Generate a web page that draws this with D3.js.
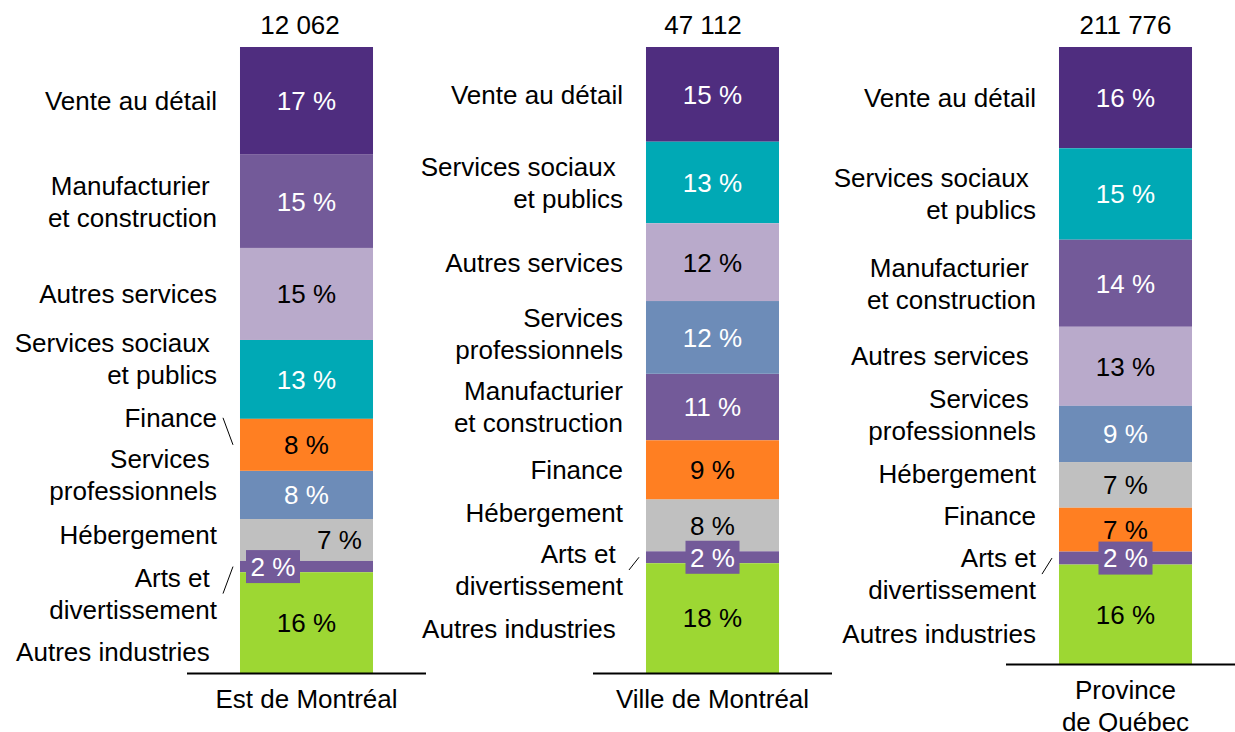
<!DOCTYPE html>
<html>
<head>
<meta charset="utf-8">
<script src="https://cdn.jsdelivr.net/npm/d3@7"></script>
<style>
  body { margin: 0; background: #fff; }
  text { font-family: "Liberation Sans", Arial, sans-serif; font-size: 26px; white-space: pre; }
</style>
</head>
<body>
<script>
// industries, in a fixed order (shares below follow it)
var categories = ["Vente au détail", "Services sociaux et publics", "Manufacturier et construction",
    "Autres services", "Services professionnels", "Hébergement", "Finance",
    "Arts et divertissement", "Autres industries"];
var regions = ["Est de Montréal", "Ville de Montréal", "Province|de Québec"];
var totals = ["12 062", "47 112", "211 776"];

// share of businesses (%)
var estShares    = [17.2, 12.6, 14.9, 14.7, 7.7, 6.7, 8.3, 1.8, 16.1];
var villeShares  = [15.1, 13.0, 10.6, 12.4, 11.6, 8.3, 9.4, 1.9, 17.5];
var quebecShares = [16.4, 14.8, 14.1, 12.8, 9.1, 7.4, 7.1, 2.1, 16.1];

// label text as it is written beside each bar ("|" = line break)
var estLabels = ["Vente au détail", "Services sociaux |et publics", "Manufacturier |et construction",
    "Autres services", "Services |professionnels", "Hébergement", "Finance",
    "Arts et |divertissement", "Autres industries "];
var villeLabels = ["Vente au détail", "Services sociaux |et publics", "Manufacturier|et construction",
    "Autres services", "Services|professionnels", "Hébergement", "Finance",
    "Arts et |divertissement", "Autres industries "];
var quebecLabels = ["Vente au détail", "Services sociaux |et publics", "Manufacturier |et construction",
    "Autres services ", "Services |professionnels", "Hébergement", "Finance",
    "Arts et|divertissement", "Autres industries"];

var colors = ["#4f2d7f", "#00a9b5", "#735a99", "#b9aacb", "#6d8cb8", "#c0c0c0", "#ff7f22", "#735a99", "#9dd733"];
var whiteText = [true, true, true, false, true, false, false, true, false];

var width = 1235, height = 732;
var plotTop = 47;

// layout of each panel + hand placed label nudges (px)
var panels = [
    {shares: estShares, labels: estLabels, x0: 187, x1: 426, bottom: 673, totalDx: -6.5,
     catShift: [0, -21, 0, 0, -20, -5.5, -27, 27, 29.5],
     valDx: [0, 0, 0, 0, 0, 33, 0, -33.5, 0], leaders: [6, 7]},
    {shares: villeShares, labels: villeLabels, x0: 593, x1: 832, bottom: 673, totalDx: -9.5,
     catShift: [0, 0, 0, 0, -3.5, -13, 0, 12.7, 11],
     valDx: [0, 0, 0, 0, 0, 0, 0, 0, 0], leaders: [7]},
    {shares: quebecShares, labels: quebecLabels, x0: 1006, x1: 1245, bottom: 664, totalDx: 0,
     catShift: [0, 0, 0, -11, -19.5, -11, -14, 16, 19],
     valDx: [0, 0, 0, 0, 0, 0, 0, 0, 0], leaders: [7]}
];

var svg = d3.select("body").append("svg")
    .attr("width", width)
    .attr("height", height);

panels.forEach(function(p, pi) {
    var x = d3.scaleBand()
        .domain([regions[pi]])
        .range([p.x0, p.x1])
        .padding(0.2849);

    var total = d3.sum(p.shares);
    var y = d3.scaleLinear()
        .domain([0, total])
        .range([p.bottom, plotTop]);

    // Autres industries at the bottom, then Arts, then the rest smallest first
    var rest = d3.range(7).sort(function(a, b) { return p.shares[a] - p.shares[b]; });
    var order = [8, 7].concat(rest);

    var row = {};
    categories.forEach(function(c, i) { row[c] = p.shares[i]; });
    var stack = d3.stack()
        .keys(categories)
        .order(function() { return order; });
    var series = stack([row]);

    var segs = series.map(function(s, i) {
        return {i: i, y0: s[0][0], y1: s[0][1], v: p.shares[i]};
    });

    var g = svg.append("g").attr("class", "panel");
    var bx = x(regions[pi]), bw = x.bandwidth();

    g.selectAll("rect.seg").data(segs).enter()
        .append("rect").attr("class", "seg")
        .attr("x", bx)
        .attr("width", bw)
        .attr("y", function(d) { return y(d.y1); })
        .attr("height", function(d) { return y(d.y0) - y(d.y1); })
        .attr("fill", function(d) { return colors[d.i]; });

    // baseline
    g.append("line")
        .attr("x1", p.x0).attr("x2", p.x1)
        .attr("y1", p.bottom + 0.5).attr("y2", p.bottom + 0.5)
        .attr("stroke", "#000").attr("stroke-width", 2);

    var mid = function(d) { return (y(d.y0) + y(d.y1)) / 2; };
    var cx = bx + bw / 2;

    // arts box behind its tiny value label
    segs.filter(function(d) { return d.i === 7; }).forEach(function(d) {
        g.append("rect")
            .attr("x", cx + p.valDx[7] - 27)
            .attr("y", mid(d) - 16.5)
            .attr("width", 54).attr("height", 33)
            .attr("fill", colors[7]);
    });

    // value labels
    g.selectAll("text.val").data(segs).enter()
        .append("text").attr("class", "val")
        .attr("x", function(d) { return cx + p.valDx[d.i]; })
        .attr("y", mid)
        .attr("dy", "0.36em")
        .attr("text-anchor", "middle")
        .attr("fill", function(d) { return whiteText[d.i] ? "#fff" : "#000"; })
        .text(function(d) { return Math.round(d.v) + " %"; });

    // category labels, right aligned beside the bar
    var labelRight = bx - 23;
    segs.forEach(function(d) {
        var lines = p.labels[d.i].split("|");
        var c = mid(d) + p.catShift[d.i];
        var t = g.append("text")
            .attr("text-anchor", "end")
            .attr("fill", "#000");
        lines.forEach(function(line, k) {
            t.append("tspan")
                .attr("x", labelRight)
                .attr("y", c - (lines.length - 1) * 16 + k * 32)
                .attr("dy", "0.36em")
                .text(line);
        });
    });

    // leader lines
    p.leaders.forEach(function(i) {
        var d = segs[i];
        g.append("line")
            .attr("x1", labelRight + 6).attr("y1", mid(d) + p.catShift[i])
            .attr("x2", bx - 7).attr("y2", mid(d))
            .attr("stroke", "#000").attr("stroke-width", 1);
    });

    // total above the bar
    g.append("text")
        .attr("x", cx + p.totalDx)
        .attr("y", 33.5)
        .attr("text-anchor", "middle")
        .text(totals[pi]);

    // region name below
    var rl = regions[pi].split("|");
    var rt = g.append("text").attr("text-anchor", "middle");
    rl.forEach(function(line, k) {
        rt.append("tspan")
            .attr("x", cx)
            .attr("y", p.bottom + 35 + k * 32)
            .text(line);
    });
});
</script>
</body>
</html>
